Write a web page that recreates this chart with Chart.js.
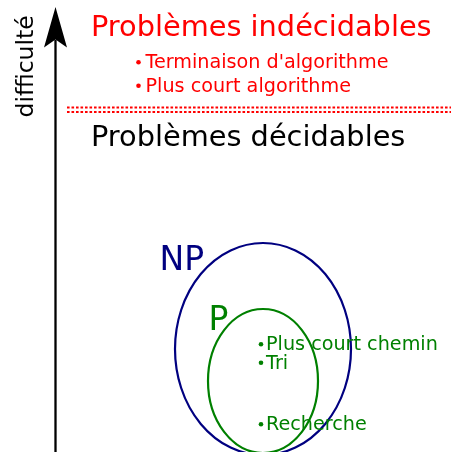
<!DOCTYPE html>
<html>
<head>
<meta charset="utf-8">
<script src="https://cdn.jsdelivr.net/npm/chart.js@4.4.0/dist/chart.umd.min.js"></script>
<style>
  html, body { margin: 0; padding: 0; background: #fff; }
  #wrap { width: 451px; height: 452px; position: relative; }
</style>
</head>
<body>
<div id="wrap"><canvas id="chart"></canvas></div>
<script>
/* ── Données du schéma (unités du repère, y vers le bas) ── */
const axisLabel = 'difficulté';
const axisX = [55.5, 55.5];
const axisY = [452, 40];

const undecidableTitle = 'Problèmes indécidables';
const decidableTitle = 'Problèmes décidables';
const borderX = [67, 451];
const borderY = [107.5, 112];

const undecidableItems = ["Terminaison d'algorithme", 'Plus court algorithme'];
const undecidableItemX = [138.5, 138.5];
const undecidableItemY = [62.3, 85.8];

const setNames = ['NP', 'P'];
const setCenterX = [263, 263];
const setCenterY = [349, 381];
const setRadiusX = [88, 55];
const setRadiusY = [106, 72];

const polyItems = ['Plus court chemin', 'Tri', 'Recherche'];
const polyItemX = [261, 261, 261];
const polyItemY = [344.3, 362.8, 424.3];

const RED = '#ff0000', NAVY = '#000080', GREEN = '#008000';
const FONT = '"DejaVu Sans", Verdana, sans-serif';

/* ── Plugin: ellipses, flèche, textes ── */
const diagramPlugin = {
  id: 'diagram',
  beforeDatasetsDraw(chart) {
    const { ctx, scales: { x, y } } = chart;
    const colors = [NAVY, GREEN];
    ctx.save();
    setNames.forEach((name, i) => {
      const cx = x.getPixelForValue(setCenterX[i]);
      const cy = y.getPixelForValue(setCenterY[i]);
      const rx = Math.abs(x.getPixelForValue(setCenterX[i] + setRadiusX[i]) - cx);
      const ry = Math.abs(y.getPixelForValue(setCenterY[i] + setRadiusY[i]) - cy);
      ctx.beginPath();
      ctx.ellipse(cx, cy, rx, ry, 0, 0, Math.PI * 2);
      ctx.strokeStyle = colors[i];
      ctx.lineWidth = 2.2;
      ctx.stroke();
    });
    ctx.restore();
  },
  afterDatasetsDraw(chart) {
    const { ctx, scales: { x, y } } = chart;
    const px = v => x.getPixelForValue(v);
    const py = v => y.getPixelForValue(v);
    ctx.save();

    // tête de flèche
    const tipX = axisX[1];
    ctx.beginPath();
    ctx.moveTo(px(tipX), py(7));
    ctx.lineTo(px(tipX - 11.5), py(47.5));
    ctx.lineTo(px(tipX), py(39.5));
    ctx.lineTo(px(tipX + 11.5), py(47.5));
    ctx.closePath();
    ctx.fillStyle = '#000';
    ctx.fill();

    // libellé de l'axe
    ctx.save();
    ctx.translate(px(33), py(117.5));
    ctx.rotate(-Math.PI / 2);
    ctx.font = `23.5px ${FONT}`;
    ctx.fillStyle = '#000';
    ctx.textAlign = 'left';
    ctx.textBaseline = 'alphabetic';
    ctx.fillText(axisLabel, 0, 0);
    ctx.restore();

    ctx.textAlign = 'left';
    ctx.textBaseline = 'alphabetic';

    // titres
    ctx.font = `28.8px ${FONT}`;
    ctx.fillStyle = RED;
    ctx.fillText(undecidableTitle, px(91), py(36));
    ctx.fillStyle = '#000';
    ctx.fillText(decidableTitle, px(91), py(146));

    // éléments indécidables
    ctx.font = `19.2px ${FONT}`;
    ctx.fillStyle = RED;
    undecidableItems.forEach((t, i) => {
      ctx.fillText(t, px(undecidableItemX[i] + 7), py(undecidableItemY[i] + 5.7));
    });

    // éléments de P
    ctx.fillStyle = GREEN;
    polyItems.forEach((t, i) => {
      ctx.fillText(t, px(polyItemX[i] + 5), py(polyItemY[i] + 5.7));
    });

    // noms des classes
    ctx.font = `33px ${FONT}`;
    ctx.fillStyle = NAVY;
    ctx.fillText(setNames[0], px(159.5), py(269.5));
    ctx.fillStyle = GREEN;
    ctx.fillText(setNames[1], px(208.5), py(329.5));

    ctx.restore();
  }
};

const lineSet = (xs, ys, color, width, dash) => ({
  type: 'scatter',
  showLine: true,
  data: xs.map((v, i) => ({ x: v, y: ys[i] })),
  borderColor: color,
  borderWidth: width,
  borderDash: dash || [],
  pointRadius: 0,
  pointHoverRadius: 0,
  clip: false
});

const pointSet = (xs, ys, color) => ({
  type: 'scatter',
  data: xs.map((v, i) => ({ x: v, y: ys[i] })),
  backgroundColor: color,
  borderWidth: 0,
  pointRadius: 2.3,
  pointHoverRadius: 2.3,
  clip: false
});

new Chart(document.getElementById('chart'), {
  type: 'scatter',
  data: {
    datasets: [
      lineSet(axisX, axisY, '#000', 2.3),
      lineSet(borderX, [borderY[0], borderY[0]], RED, 2, [2.6, 1.9]),
      lineSet(borderX, [borderY[1], borderY[1]], RED, 2, [2.6, 1.9]),
      pointSet(undecidableItemX, undecidableItemY, RED),
      pointSet(polyItemX, polyItemY, GREEN)
    ]
  },
  options: {
    responsive: true,
    maintainAspectRatio: false,
    animation: false,
    events: [],
    layout: { padding: 0, autoPadding: false },
    plugins: { legend: { display: false }, tooltip: { enabled: false } },
    scales: {
      x: { type: 'linear', min: 0, max: 451, display: false },
      y: { type: 'linear', min: 0, max: 452, reverse: true, display: false }
    }
  },
  plugins: [diagramPlugin]
});
</script>
</body>
</html>
